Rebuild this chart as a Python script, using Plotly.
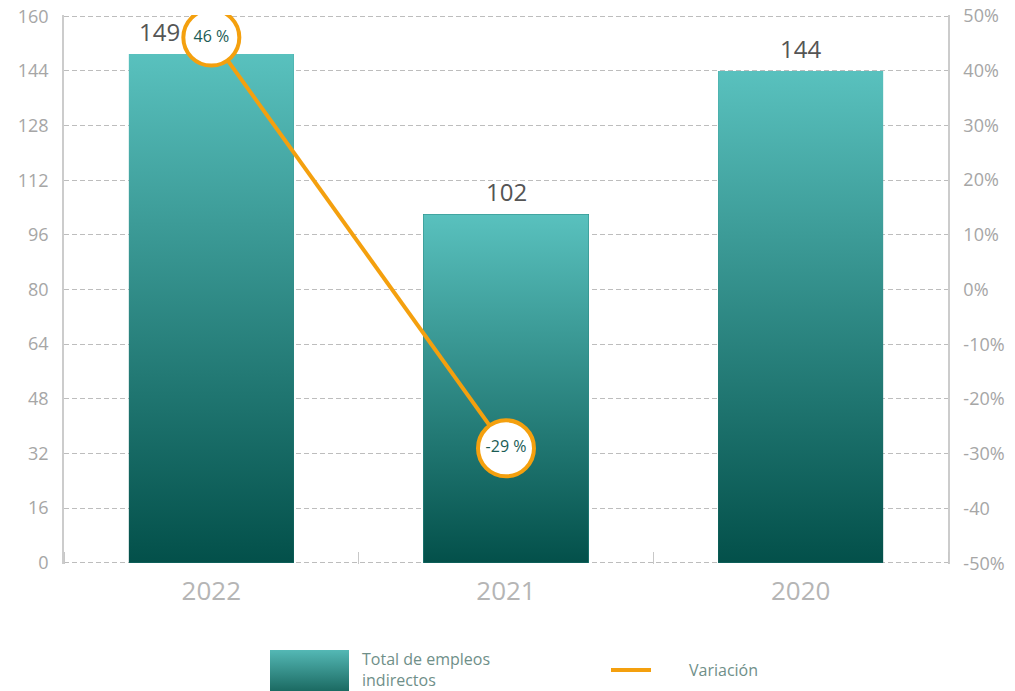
import plotly.graph_objects as go

years = ["2022", "2021", "2020"]
totals = [149, 102, 144]
variation = [46, -29, None]
variation_labels = ["46 %", "-29 %", ""]
left_ticks = [0, 16, 32, 48, 64, 80, 96, 112, 128, 144, 160]
right_ticks = [-50, -40, -30, -20, -10, 0, 10, 20, 30, 40, 50]
right_ticktext = ["-50%", "-40", "-30%", "-20%", "-10%", "0%", "10%", "20%", "30%", "40%", "50%"]

TOP = "#59c1be"
BOTTOM = "#03504a"
ORANGE = "#f4a00e"
FONT = "Open Sans"
BAR_W = 0.56

W, H = 1015, 691
ML, MR, MT = 64, 67, 15
plot_h = H - MT
main_bottom = 1 - (564 - MT) / plot_h

fig = go.Figure()

xs = list(range(len(years)))
fig.add_trace(go.Bar(x=xs, y=totals, width=BAR_W, marker=dict(color="#2a8a84", line=dict(width=0)),
                     name="Total de empleos indirectos", showlegend=False))
for i, v in enumerate(totals):
    fig.add_trace(go.Scatter(
        x=[i - BAR_W / 2, i + BAR_W / 2, i + BAR_W / 2, i - BAR_W / 2, i - BAR_W / 2],
        y=[0, 0, v, v, 0], mode="lines", fill="toself", line=dict(width=0),
        fillgradient=dict(type="vertical", colorscale=[[0, BOTTOM], [1, TOP]]),
        hoverinfo="skip", showlegend=False))

fig.add_trace(go.Scatter(
    x=xs, y=variation, yaxis="y2", mode="lines+markers+text",
    line=dict(color=ORANGE, width=4),
    marker=dict(size=56, color="white", line=dict(color=ORANGE, width=4)),
    text=variation_labels, textposition="middle center",
    textfont=dict(family=FONT, size=16, color="#1b5c55"),
    name="Variación", showlegend=False))

shifts = [-52, 0, 0]
for i, v in enumerate(totals):
    fig.add_annotation(x=i, y=v, text=str(v), showarrow=False, yanchor="bottom", yshift=4,
                       xshift=shifts[i], font=dict(family=FONT, size=24, color="#555555"))

fig.add_trace(go.Scatter(x=[0, 1, 1, 0, 0], y=[0, 0, 1, 1, 0], mode="lines", fill="toself",
                         line=dict(width=0), xaxis="x3", yaxis="y3",
                         fillgradient=dict(type="vertical", colorscale=[[0, "#1b6a62"], [1, "#54b8b5"]]),
                         hoverinfo="skip", showlegend=False))
fig.add_trace(go.Scatter(x=[0, 1], y=[0.5, 0.5], mode="lines", line=dict(color=ORANGE, width=4),
                         xaxis="x4", yaxis="y4", hoverinfo="skip", showlegend=False))

def px_x(p):
    return (p - ML) / (W - ML - MR)

def px_y(p):
    return 1 - (p - MT) / plot_h

fig.add_annotation(xref="paper", yref="paper", x=px_x(360), y=px_y(646), xanchor="left", yanchor="top",
                   text="Total de empleos<br>indirectos", showarrow=False, align="left",
                   font=dict(family=FONT, size=16, color="#6f8f89"))
fig.add_annotation(xref="paper", yref="paper", x=px_x(687), y=px_y(670), xanchor="left", yanchor="middle",
                   text="Variación", showarrow=False, font=dict(family=FONT, size=16, color="#6f8f89"))

grid = dict(showgrid=True, gridcolor="#bdbdbd", griddash="5px,3px", gridwidth=1)
fig.update_layout(
    width=W, height=H, autosize=False, margin=dict(l=ML, r=MR, t=MT, b=0, autoexpand=False),
    plot_bgcolor="rgba(0,0,0,0)", paper_bgcolor="white", bargap=0,
    xaxis=dict(range=[-0.5, 2.5], tickvals=xs, ticktext=years, showgrid=False, zeroline=False,
               ticks="", showline=False, ticklabelstandoff=9, automargin=False,
               tickfont=dict(family=FONT, size=26, color="#b5b5b5"),
               minor=dict(tick0=0.5, dtick=1, ticks="inside", ticklen=12, tickcolor="#c8c8c8", showgrid=False),
               fixedrange=True),
    yaxis=dict(domain=[main_bottom, 1], range=[-0.4, 160.4], tickvals=left_ticks, zeroline=False,
               showline=True, linecolor="#cccccc", linewidth=1.5, ticklabelstandoff=10, automargin=False,
               tickfont=dict(family=FONT, size=18, color="#a6a6a6"), ticks="", **grid),
    yaxis2=dict(domain=[main_bottom, 1], range=[-50.125, 50.125], overlaying="y", side="right",
                tickvals=right_ticks, ticktext=right_ticktext, showgrid=False, zeroline=False,
                showline=True, linecolor="#cccccc", linewidth=1.5, ticklabelstandoff=10, automargin=False,
                tickfont=dict(family=FONT, size=18, color="#a6a6a6"), ticks=""),
    xaxis3=dict(domain=[px_x(270), px_x(349)], range=[0, 1], visible=False, anchor="y3", automargin=False),
    yaxis3=dict(domain=[px_y(691), px_y(650)], range=[0, 1], visible=False, anchor="x3", automargin=False),
    xaxis4=dict(domain=[px_x(611), px_x(651)], range=[0, 1], visible=False, anchor="y4", automargin=False),
    yaxis4=dict(domain=[px_y(680), px_y(660)], range=[0, 1], visible=False, anchor="x4", automargin=False),
    showlegend=False,
)

fig.write_html("out.html", config={"displayModeBar": False, "responsive": False},
               default_width="1015px", default_height="691px",
               post_script="document.body.style.margin='0';")
